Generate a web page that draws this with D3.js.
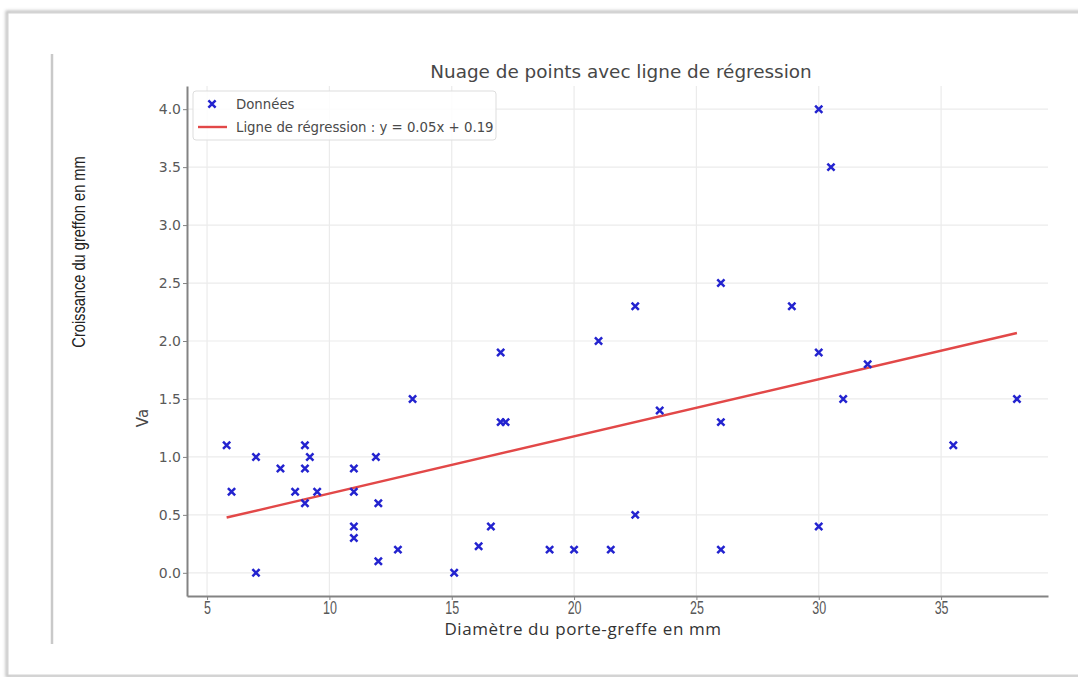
<!DOCTYPE html>
<html>
<head>
<meta charset="utf-8">
<script src="https://cdn.jsdelivr.net/npm/d3@7/dist/d3.min.js"></script>
<style>
  html, body { margin: 0; padding: 0; background: #ffffff; }
  svg { display: block; }
</style>
</head>
<body>
<svg id="chart" width="1078" height="677"></svg>
<script>
// Diamètre du porte-greffe (mm) et croissance du greffon (mm)
const diametres = [5.8, 6.0, 7.0, 7.0, 8.0, 8.6, 9.0, 9.0, 9.2, 9.0, 9.5,
  11.0, 11.0, 11.0, 11.0, 11.9, 12.0, 12.0, 12.8, 13.4,
  15.1, 16.1, 16.6, 17.0, 17.0, 17.2, 19.0, 20.0, 21.0, 21.5,
  22.5, 22.5, 23.5, 26.0, 26.0, 26.0, 28.9, 30.0, 30.5, 30.0,
  30.0, 31.0, 32.0, 35.5, 38.1];
const croissances = [1.1, 0.7, 1.0, 0.0, 0.9, 0.7, 1.1, 0.9, 1.0, 0.6, 0.7,
  0.9, 0.7, 0.4, 0.3, 1.0, 0.6, 0.1, 0.2, 1.5,
  0.0, 0.23, 0.4, 1.9, 1.3, 1.3, 0.2, 0.2, 2.0, 0.2,
  2.3, 0.5, 1.4, 2.5, 1.3, 0.2, 2.3, 4.0, 3.5, 1.9,
  0.4, 1.5, 1.8, 1.1, 1.5];

// Droite de régression y = a·x + b
const regSlope = 0.0493;
const regIntercept = 0.191;

const xTicks = [5, 10, 15, 20, 25, 30, 35];
const yTicks = [0, 0.5, 1.0, 1.5, 2.0, 2.5, 3.0, 3.5, 4.0];

const titleText = "Nuage de points avec ligne de régression";
const xLabel = "Diamètre du porte-greffe en mm";
const yLabel = "Va";
const sideLabel = "Croissance du greffon en mm";
const legendData = "Données";
const fmt2 = d3.format(".2f");
const legendLine = `Ligne de régression : y = ${fmt2(regSlope)}x + ${fmt2(regIntercept)}`;

const svg = d3.select("#chart");
const plot = { left: 187, right: 1048, top: 86, bottom: 596 };

const x = d3.scaleLinear().domain([4.18, 39.37]).range([plot.left, plot.right]);
const y = d3.scaleLinear().domain([-0.2, 4.2]).range([plot.bottom, plot.top]);

// Cadre extérieur avec ombre légère
const defs = svg.append("defs");
const shadow = defs.append("filter").attr("id", "soft").attr("x", "-5%").attr("y", "-5%")
  .attr("width", "110%").attr("height", "110%");
shadow.append("feGaussianBlur").attr("stdDeviation", 1.6);

svg.append("rect")
  .attr("x", 7).attr("y", 12).attr("width", 1100).attr("height", 664)
  .attr("fill", "none").attr("stroke", "#bdbdbd").attr("stroke-width", 3)
  .attr("filter", "url(#soft)");
svg.append("rect")
  .attr("x", 8).attr("y", 13).attr("width", 1100).attr("height", 662)
  .attr("fill", "#ffffff").attr("stroke", "#d2d2d2").attr("stroke-width", 1);

// Barre verticale à gauche
svg.append("line")
  .attr("x1", 52).attr("x2", 52).attr("y1", 54).attr("y2", 644)
  .attr("stroke", "#c9c9c9").attr("stroke-width", 2.5);

// Grille
const grid = svg.append("g");
grid.selectAll("line.vx").data(xTicks).join("line")
  .attr("x1", d => x(d)).attr("x2", d => x(d))
  .attr("y1", plot.top).attr("y2", plot.bottom)
  .attr("stroke", "#ebebeb").attr("stroke-width", 1.2);
grid.selectAll("line.hy").data(yTicks).join("line")
  .attr("x1", plot.left).attr("x2", plot.right)
  .attr("y1", d => y(d)).attr("y2", d => y(d))
  .attr("stroke", "#ebebeb").attr("stroke-width", 1.2);

// Axes
const xAxis = svg.append("g")
  .attr("transform", `translate(0,${plot.bottom})`)
  .call(d3.axisBottom(x).tickValues(xTicks).tickSize(4).tickSizeOuter(0).tickFormat(d3.format("d")));
const yAxis = svg.append("g")
  .attr("transform", `translate(${plot.left},0)`)
  .call(d3.axisLeft(y).tickValues(yTicks).tickSize(4).tickSizeOuter(0).tickFormat(d3.format(".1f")));

[xAxis, yAxis].forEach(g => {
  g.select(".domain").attr("stroke", "#838383").attr("stroke-width", 2);
  g.selectAll(".tick line").attr("stroke", "#838383").attr("stroke-width", 1);
});
// Chiffres de l'axe x : étroits et hauts
xAxis.selectAll(".tick text")
  .attr("font-family", "'Liberation Sans', Arial, sans-serif")
  .attr("font-size", 16).attr("fill", "#595959")
  .attr("y", 5).attr("dy", "0.71em")
  .attr("transform", "scale(0.78,1.12)");
yAxis.selectAll(".tick text")
  .attr("font-family", "'DejaVu Sans', sans-serif")
  .attr("font-size", 14).attr("fill", "#595959").attr("x", -6);

// Droite de régression
const xMin = d3.min(diametres), xMax = d3.max(diametres);
svg.append("line")
  .attr("x1", x(xMin)).attr("y1", y(regSlope * xMin + regIntercept))
  .attr("x2", x(xMax)).attr("y2", y(regSlope * xMax + regIntercept))
  .attr("stroke", "#e24848").attr("stroke-width", 2.4);

// Points (marqueurs en croix)
const pts = diametres.map((d, i) => ({ x: d, y: croissances[i] }));
const s = 3.6;
svg.append("g").selectAll("path").data(pts).join("path")
  .attr("d", d => `M${x(d.x) - s},${y(d.y) - s}L${x(d.x) + s},${y(d.y) + s}M${x(d.x) - s},${y(d.y) + s}L${x(d.x) + s},${y(d.y) - s}`)
  .attr("stroke", "#2323cf").attr("stroke-width", 2.5).attr("fill", "none");

// Légende
const lg = svg.append("g");
lg.append("rect")
  .attr("x", 193).attr("y", 91).attr("width", 303).attr("height", 49).attr("rx", 3)
  .attr("fill", "#ffffff").attr("fill-opacity", 0.85)
  .attr("stroke", "#dddddd").attr("stroke-width", 1);
lg.append("path")
  .attr("d", `M${212 - s},${104 - s}L${212 + s},${104 + s}M${212 - s},${104 + s}L${212 + s},${104 - s}`)
  .attr("stroke", "#2323cf").attr("stroke-width", 2.5);
lg.append("line")
  .attr("x1", 198).attr("x2", 227).attr("y1", 127).attr("y2", 127)
  .attr("stroke", "#e24848").attr("stroke-width", 2.4);
lg.selectAll("text").data([legendData, legendLine]).join("text")
  .attr("x", 236).attr("y", (d, i) => 104 + i * 23).attr("dy", "0.35em")
  .attr("font-family", "'DejaVu Sans', sans-serif").attr("font-size", 13.3)
  .attr("fill", "#4a4a4a").text(d => d);

// Titre
svg.append("text")
  .attr("x", 621).attr("y", 72).attr("dy", "0.35em")
  .attr("text-anchor", "middle")
  .attr("font-family", "'DejaVu Sans', sans-serif").attr("font-size", 18.4)
  .attr("fill", "#474747").text(titleText);

// Titres des axes
svg.append("text")
  .attr("x", 583).attr("y", 629).attr("dy", "0.35em")
  .attr("text-anchor", "middle")
  .attr("font-family", "'Open Sans', 'DejaVu Sans', sans-serif").attr("font-size", 17)
  .attr("letter-spacing", 0.6)
  .attr("fill", "#333333").text(xLabel);

svg.append("text")
  .attr("transform", "translate(143,418) rotate(-90)").attr("dy", "0.35em")
  .attr("text-anchor", "middle")
  .attr("font-family", "'DejaVu Sans', sans-serif").attr("font-size", 15)
  .attr("fill", "#474747").text(yLabel);

svg.append("text")
  .attr("transform", "translate(78,252) rotate(-90) scale(0.86,1.1)").attr("dy", "0.35em")
  .attr("text-anchor", "middle")
  .attr("font-family", "'Liberation Sans', Arial, sans-serif").attr("font-size", 17)
  .attr("fill", "#222222").text(sideLabel);
</script>
</body>
</html>
